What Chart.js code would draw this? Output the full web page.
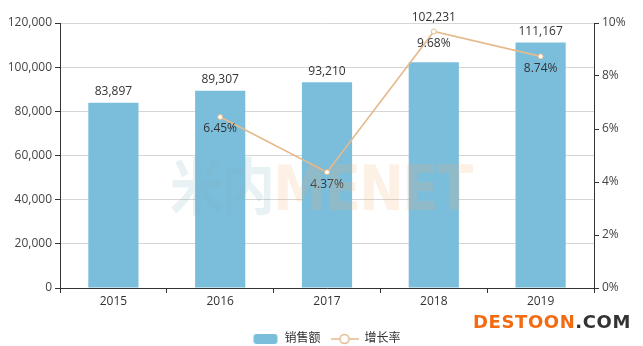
<!DOCTYPE html>
<html><head><meta charset="utf-8">
<script src="https://cdn.jsdelivr.net/npm/chart.js@4/dist/chart.umd.min.js"></script>
<style>
html,body{margin:0;padding:0;background:#fff;}
#wrap{position:relative;width:643px;height:346px;}
#wm{position:absolute;left:170px;top:138px;font:bold 62px "DejaVu Sans",sans-serif;letter-spacing:-2px;pointer-events:none;white-space:nowrap;z-index:2;transform:scaleX(0.86);transform-origin:0 0;}
#logo{position:absolute;left:473px;top:311px;font:bold 18px "DejaVu Sans",sans-serif;letter-spacing:0.6px;white-space:nowrap;}
</style></head>
<body><div id="wrap"><canvas id="c" width="643" height="346"></canvas>
<div id="wm"><span style="color:rgba(130,175,195,0.18);font-family:'Noto Sans CJK SC'">米内</span><span style="color:rgba(245,170,110,0.18)">MENET</span></div>
<div id="logo"><span style="color:#f26b12">DESTOON</span><span style="color:#333">.COM</span></div>
</div>
<script>
const categories = ['2015','2016','2017','2018','2019'];
const sales = [83897, 89307, 93210, 102231, 111167];
const growth = [null, 6.45, 4.37, 9.68, 8.74];
const leftTicks = [0, 20000, 40000, 60000, 80000, 100000, 120000];
const rightTicks = [0, 2, 4, 6, 8, 10];

const BAR = 'rgb(123,190,219)';
const LINE = 'rgb(229,186,140)';
const FONT = "'Open Sans','Noto Sans CJK SC',sans-serif";

function makeIcon(type){
  const cv = document.createElement('canvas');
  cv.width = 28; cv.height = 12;
  const g = cv.getContext('2d');
  if(type==='bar'){
    g.fillStyle = BAR;
    g.beginPath(); g.roundRect(3,1,24,10,3); g.fill();
  } else {
    g.strokeStyle = LINE; g.lineWidth = 1.5;
    g.beginPath(); g.moveTo(0,6); g.lineTo(28,6); g.stroke();
    g.fillStyle='#fff'; g.beginPath(); g.arc(14,6,4.5,0,Math.PI*2); g.fill(); g.stroke();
  }
  return cv;
}
const icons = [makeIcon('bar'), makeIcon('line')];

const labelPlugin = {
  id:'vals',
  afterDatasetsDraw(chart){
    const ctx = chart.ctx;
    ctx.save();
    ctx.font = "12px " + FONT;
    ctx.fillStyle = '#333';
    ctx.textAlign = 'center';
    const lineEls = chart.getDatasetMeta(1).data;
    const lineLabelTop = {};
    lineEls.forEach((el,i)=>{
      if(growth[i]==null) return;
      lineLabelTop[i] = el.y+6;
      ctx.textBaseline='top';
      ctx.fillText(growth[i].toFixed(2)+'%', el.x, el.y+6);
    });
    chart.getDatasetMeta(0).data.forEach((el,i)=>{
      let bottom = el.y-5;
      const lt = lineLabelTop[i];
      if(lt!=null && bottom > lt - 2 && bottom - 14 < lt + 14){
        // avoid overlapping the growth label: lift above the line point
        bottom = Math.min(bottom, lineEls[i].y - 8);
      }
      ctx.textBaseline='bottom';
      ctx.fillText(sales[i].toLocaleString('en-US'), el.x, bottom);
    });
    ctx.restore();
  }
};

new Chart(document.getElementById('c'), {
  data:{
    labels:categories,
    datasets:[
      {type:'bar', label:'销售额', data:sales, backgroundColor:BAR, yAxisID:'y', barPercentage:0.94, categoryPercentage:0.5, order:2},
      {type:'line', label:'增长率', data:growth, borderColor:LINE, borderWidth:1.6, pointRadius:2.5, pointBackgroundColor:'#fff', pointBorderColor:LINE, pointBorderWidth:1, yAxisID:'y1', spanGaps:false, order:1}
    ]
  },
  options:{
    responsive:false, animation:false,
    layout:{padding:{top:23,bottom:-9,left:8,right:0}},
    plugins:{
      tooltip:{enabled:false},
      legend:{position:'bottom', labels:{usePointStyle:true, pointStyleWidth:28, font:{size:12, family:FONT}, color:'#333', padding:10,
        generateLabels(chart){
          return chart.data.datasets.map((d,i)=>({text:d.label, pointStyle:icons[i], datasetIndex:i, hidden:false, fontColor:'#333', lineWidth:0, strokeStyle:'transparent', fillStyle:'transparent'}));
        }}}
    },
    scales:{
      x:{
        grid:{offset:true, drawOnChartArea:false, color:'#333', tickLength:5},
        border:{color:'#333'},
        ticks:{color:'#333', font:{size:12, family:FONT}, padding:1},
        afterFit(s){ s.height = 35; }
      },
      y:{
        position:'left', min:0, max:120000,
        afterBuildTicks(s){ s.ticks = leftTicks.map(v=>({value:v})); },
        grid:{color:'#d6d6d6', tickLength:5, tickColor:'#333'},
        border:{color:'#333'},
        ticks:{color:'#444', font:{size:12, family:FONT}, padding:3, callback:v=>v.toLocaleString('en-US')},
        afterFit(s){ s.width = 52; }
      },
      y1:{
        position:'right', min:0, max:10,
        afterBuildTicks(s){ s.ticks = rightTicks.map(v=>({value:v})); },
        grid:{drawOnChartArea:false, tickLength:5, color:'#333'},
        border:{color:'#333'},
        ticks:{color:'#444', font:{size:12, family:FONT}, padding:3, callback:v=>v+'%'},
        afterFit(s){ s.width = 49; }
      }
    }
  },
  plugins:[labelPlugin]
});
</script></body></html>
